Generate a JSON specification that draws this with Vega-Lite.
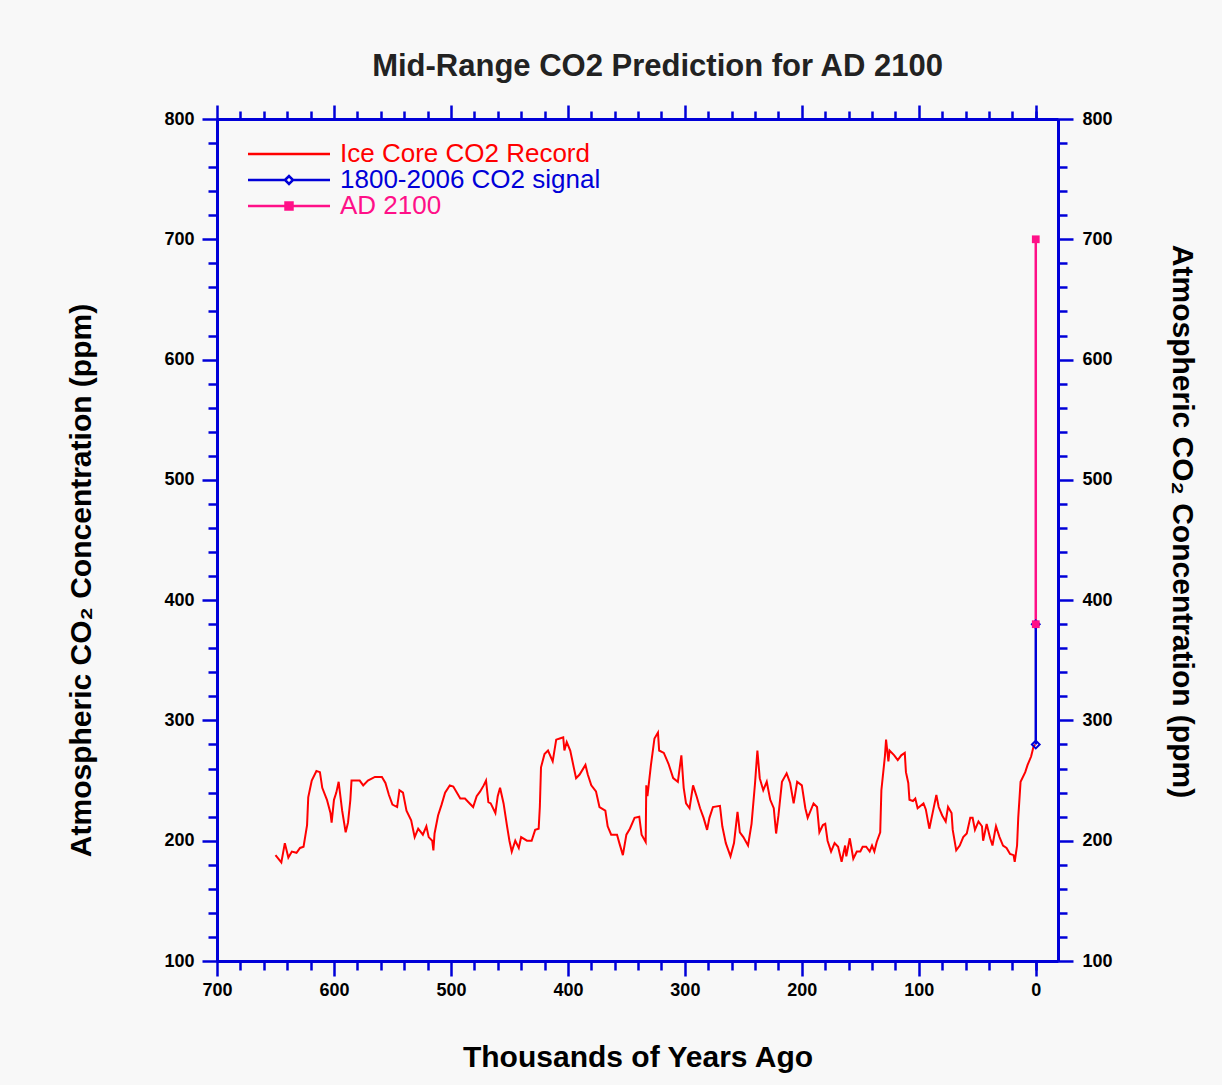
{
  "$schema": "https://vega.github.io/schema/vega-lite/v6.json",
  "width": 841,
  "height": 842,
  "autosize": {"type": "none"},
  "padding": {"left": 217, "top": 119, "right": 164, "bottom": 124},
  "background": "#f8f8f8",
  "title": {"text": "Mid-Range CO2 Prediction for AD 2100", "fontSize": 31, "font": "Liberation Sans", "fontWeight": "bold", "color": "#222222", "offset": 21, "dx": 20},
  "datasets": {
    "ice": [
      {"age":650,"co2":188},{"age":645,"co2":182},{"age":642,"co2":198},{"age":639,"co2":186},{"age":636,"co2":191},{"age":632,"co2":190},{"age":629,"co2":194},{"age":626,"co2":195},{"age":623,"co2":213},{"age":622,"co2":236},{"age":619,"co2":250},{"age":615,"co2":258},{"age":612,"co2":257},{"age":610,"co2":244},{"age":606,"co2":234},{"age":603,"co2":223},{"age":602,"co2":215},{"age":600,"co2":234},{"age":598,"co2":240},{"age":596,"co2":249},{"age":593,"co2":225},{"age":590,"co2":207},{"age":588,"co2":215},{"age":586,"co2":234},{"age":585,"co2":250},{"age":578,"co2":250},{"age":575,"co2":246},{"age":571,"co2":250},{"age":565,"co2":253},{"age":559,"co2":253},{"age":556,"co2":248},{"age":553,"co2":238},{"age":550,"co2":230},{"age":546,"co2":228},{"age":544,"co2":242},{"age":541,"co2":240},{"age":538,"co2":225},{"age":534,"co2":217},{"age":531,"co2":203},{"age":528,"co2":210},{"age":524,"co2":205},{"age":521,"co2":212},{"age":519,"co2":203},{"age":516,"co2":200},{"age":515,"co2":192},{"age":514,"co2":206},{"age":511,"co2":221},{"age":508,"co2":230},{"age":505,"co2":240},{"age":501,"co2":246},{"age":498,"co2":245},{"age":495,"co2":240},{"age":492,"co2":235},{"age":488,"co2":235},{"age":485,"co2":232},{"age":481,"co2":228},{"age":478,"co2":237},{"age":475,"co2":241},{"age":472,"co2":246},{"age":470,"co2":250},{"age":468,"co2":232},{"age":466,"co2":231},{"age":462,"co2":223},{"age":460,"co2":237},{"age":458,"co2":244},{"age":455,"co2":231},{"age":452,"co2":212},{"age":450,"co2":200},{"age":448,"co2":191},{"age":445,"co2":200},{"age":442,"co2":194},{"age":440,"co2":203},{"age":435,"co2":200},{"age":431,"co2":200},{"age":428,"co2":209},{"age":425,"co2":210},{"age":424,"co2":228},{"age":423,"co2":261},{"age":420,"co2":272},{"age":417,"co2":275},{"age":413,"co2":266},{"age":410,"co2":284},{"age":407,"co2":285},{"age":404,"co2":286},{"age":403,"co2":275},{"age":401,"co2":282},{"age":398,"co2":275},{"age":395,"co2":261},{"age":393,"co2":252},{"age":390,"co2":255},{"age":385,"co2":263},{"age":383,"co2":255},{"age":380,"co2":246},{"age":376,"co2":241},{"age":373,"co2":228},{"age":368,"co2":225},{"age":366,"co2":212},{"age":363,"co2":205},{"age":358,"co2":205},{"age":356,"co2":198},{"age":353,"co2":188},{"age":350,"co2":205},{"age":347,"co2":210},{"age":343,"co2":219},{"age":339,"co2":220},{"age":337,"co2":205},{"age":333.5,"co2":199},{"age":333,"co2":246},{"age":332,"co2":237},{"age":329,"co2":263},{"age":326,"co2":285},{"age":323,"co2":290},{"age":322,"co2":275},{"age":318,"co2":273},{"age":314,"co2":264},{"age":310,"co2":252},{"age":306,"co2":249},{"age":303,"co2":271},{"age":301,"co2":244},{"age":299,"co2":231},{"age":296,"co2":227},{"age":293,"co2":246},{"age":290,"co2":237},{"age":287,"co2":227},{"age":284,"co2":219},{"age":281,"co2":209},{"age":279,"co2":219},{"age":276,"co2":228},{"age":270,"co2":229},{"age":268,"co2":212},{"age":265,"co2":198},{"age":261,"co2":187},{"age":258,"co2":198},{"age":255,"co2":224},{"age":253,"co2":207},{"age":250,"co2":203},{"age":246,"co2":196},{"age":243,"co2":214},{"age":240,"co2":248},{"age":238,"co2":275},{"age":236,"co2":252},{"age":233,"co2":242},{"age":230,"co2":249},{"age":227,"co2":234},{"age":224,"co2":227},{"age":222,"co2":206},{"age":220,"co2":221},{"age":217,"co2":249},{"age":213,"co2":256},{"age":210,"co2":248},{"age":207,"co2":231},{"age":204,"co2":249},{"age":200,"co2":246},{"age":197,"co2":227},{"age":195,"co2":219},{"age":190,"co2":231},{"age":187,"co2":228},{"age":185,"co2":207},{"age":182,"co2":213},{"age":180,"co2":214},{"age":178,"co2":200},{"age":175,"co2":191},{"age":172,"co2":198},{"age":169,"co2":195},{"age":166,"co2":182.5},{"age":163,"co2":196},{"age":162,"co2":187},{"age":159,"co2":202},{"age":156,"co2":185},{"age":153,"co2":191},{"age":150,"co2":191},{"age":148,"co2":195},{"age":145,"co2":195},{"age":142,"co2":191},{"age":140,"co2":196},{"age":138,"co2":191},{"age":136,"co2":199},{"age":133,"co2":207},{"age":132,"co2":242},{"age":129,"co2":270},{"age":128,"co2":284},{"age":126,"co2":266},{"age":125,"co2":275},{"age":121,"co2":271},{"age":118,"co2":267},{"age":115,"co2":271},{"age":112,"co2":273},{"age":111,"co2":257},{"age":109,"co2":248},{"age":108,"co2":234},{"age":105,"co2":233},{"age":103,"co2":235},{"age":101,"co2":227},{"age":96,"co2":231},{"age":94,"co2":226},{"age":91,"co2":210},{"age":88,"co2":224},{"age":85,"co2":238},{"age":83,"co2":228},{"age":80,"co2":221},{"age":77,"co2":216},{"age":75,"co2":228},{"age":72,"co2":223},{"age":71,"co2":209},{"age":68,"co2":192},{"age":65,"co2":196},{"age":62,"co2":203},{"age":59,"co2":206},{"age":56,"co2":219},{"age":54,"co2":219},{"age":52,"co2":209},{"age":49,"co2":216},{"age":46,"co2":212},{"age":45,"co2":200},{"age":42,"co2":214},{"age":39,"co2":202},{"age":37,"co2":196},{"age":35,"co2":207},{"age":34,"co2":212},{"age":31,"co2":203},{"age":28,"co2":196},{"age":25,"co2":194},{"age":22,"co2":189},{"age":19,"co2":188},{"age":18,"co2":182.5},{"age":16,"co2":196},{"age":15,"co2":219},{"age":13,"co2":249},{"age":9,"co2":257},{"age":7,"co2":263},{"age":4,"co2":270},{"age":2,"co2":278},{"age":0.5,"co2":280}
    ],
    "recent": [{"age":0,"co2":280},{"age":0,"co2":380}],
    "future": [{"age":0,"co2":380},{"age":0,"co2":700}]
  },
  "layer": [
    {
      "data": {"name": "ice"},
      "mark": {"type": "line", "strokeWidth": 2, "interpolate": "linear"},
      "encoding": {
        "x": {"field": "age", "type": "quantitative",
              "scale": {"domain": [-19, 700], "reverse": true, "nice": false, "zero": false},
              "axis": {"orient": "bottom", "values": [0,100,200,300,400,500,600,700], "tickSize": 15, "labelPadding": 5, "labelFlush": false, "title": "Thousands of Years Ago", "titlePadding": 43}},
        "y": {"field": "co2", "type": "quantitative",
              "scale": {"domain": [100, 800], "nice": false, "zero": false},
              "axis": {"orient": "left", "values": [100,200,300,400,500,600,700,800], "tickSize": 15, "labelPadding": 8, "labelFlush": false, "title": "Atmospheric CO₂ Concentration (ppm)", "titlePadding": 67, "titleY": 461}},
        "color": {"datum": "Ice Core CO2 Record", "type": "nominal",
                  "scale": {"domain": ["Ice Core CO2 Record", "1800-2006 CO2 signal", "AD  2100"], "range": ["#ff0000", "#0000d8", "#ff1088"]},
                  "legend": {
                    "orient": "none", "legendX": 59, "legendY": 22, "title": null,
                    "padding": 0, "symbolSize": 100, "symbolStrokeWidth": 2.5, "labelOffset": 38, "labelLimit": 500,
                    "labelFontSize": 26, "labelFont": "Liberation Sans", "rowPadding": -4,
                    "encode": {
                      "labels": {"update": {"fill": {"scale": "color", "field": "value"}}},
                      "symbols": {"update": {
                        "shape": [
                          {"test": "datum.value === '1800-2006 CO2 signal'", "value": "M-8.2,0H-0.8M0.8,0H8.2M-0.8,0L0,-0.8L0.8,0L0,0.8Z"},
                          {"test": "datum.value === 'AD  2100'", "value": "M-8.2,0H8.2M-0.7,-0.7H0.7V0.7H-0.7Z"},
                          {"value": "M-8.2,0H8.2"}
                        ],
                        "fill": [
                          {"test": "datum.value === 'AD  2100'", "value": "#ff1088"},
                          {"value": "transparent"}
                        ]
                      }}
                    }
                  }}
      }
    },
    {
      "data": {"name": "recent"},
      "mark": {"type": "line", "strokeWidth": 2.5},
      "encoding": {
        "x": {"field": "age", "type": "quantitative", "axis": {"orient": "bottom", "values": [0,20,40,60,80,120,140,160,180,220,240,260,280,320,340,360,380,420,440,460,480,520,540,560,580,620,640,660,680], "tickSize": 9, "labels": false, "title": null}},
        "y": {"field": "co2", "type": "quantitative", "axis": {"orient": "left", "values": [120,140,160,180,220,240,260,280,320,340,360,380,420,440,460,480,520,540,560,580,620,640,660,680,720,740,760,780], "tickSize": 9, "labels": false, "title": null}},
        "color": {"datum": "1800-2006 CO2 signal", "type": "nominal"}
      }
    },
    {
      "data": {"name": "future"},
      "mark": {"type": "line", "strokeWidth": 2.5},
      "encoding": {
        "x": {"field": "age", "type": "quantitative", "axis": {"orient": "top", "values": [0,100,200,300,400,500,600,700], "tickSize": 14, "labels": false, "title": null}},
        "y": {"field": "co2", "type": "quantitative", "axis": {"orient": "right", "values": [100,200,300,400,500,600,700,800], "tickSize": 15, "labelPadding": 9, "labelFlush": false, "title": "Atmospheric CO₂ Concentration (ppm)", "titlePadding": 54, "titleY": 402}},
        "color": {"datum": "AD  2100", "type": "nominal"}
      }
    },
    {
      "data": {"name": "recent"},
      "mark": {"type": "point", "shape": "diamond", "size": 60, "filled": false, "color": "#0000d8", "strokeWidth": 2, "opacity": 1},
      "encoding": {
        "x": {"field": "age", "type": "quantitative", "axis": {"orient": "top", "values": [0,20,40,60,80,120,140,160,180,220,240,260,280,320,340,360,380,420,440,460,480,520,540,560,580,620,640,660,680], "tickSize": 8, "labels": false, "title": null}},
        "y": {"field": "co2", "type": "quantitative", "axis": {"orient": "right", "values": [120,140,160,180,220,240,260,280,320,340,360,380,420,440,460,480,520,540,560,580,620,640,660,680,720,740,760,780], "tickSize": 9, "labels": false, "title": null}}
      }
    },
    {
      "data": {"name": "future"},
      "mark": {"type": "square", "size": 60, "filled": true, "color": "#ff1088", "opacity": 1},
      "encoding": {
        "x": {"field": "age", "type": "quantitative", "axis": null},
        "y": {"field": "co2", "type": "quantitative", "axis": null}
      }
    }
  ],
  "resolve": {"axis": {"x": "independent", "y": "independent"}},
  "config": {
    "view": {"stroke": null},
    "axis": {
      "grid": false,
      "domainColor": "#0000d8", "domainWidth": 3,
      "tickColor": "#0000d8", "tickWidth": 2.5,
      "labelFont": "Liberation Sans", "labelFontSize": 18, "labelFontWeight": "bold", "labelColor": "#000000",
      "titleFont": "Liberation Sans", "titleFontSize": 30, "titleFontWeight": "bold", "titleColor": "#000000"
    }
  }
}
